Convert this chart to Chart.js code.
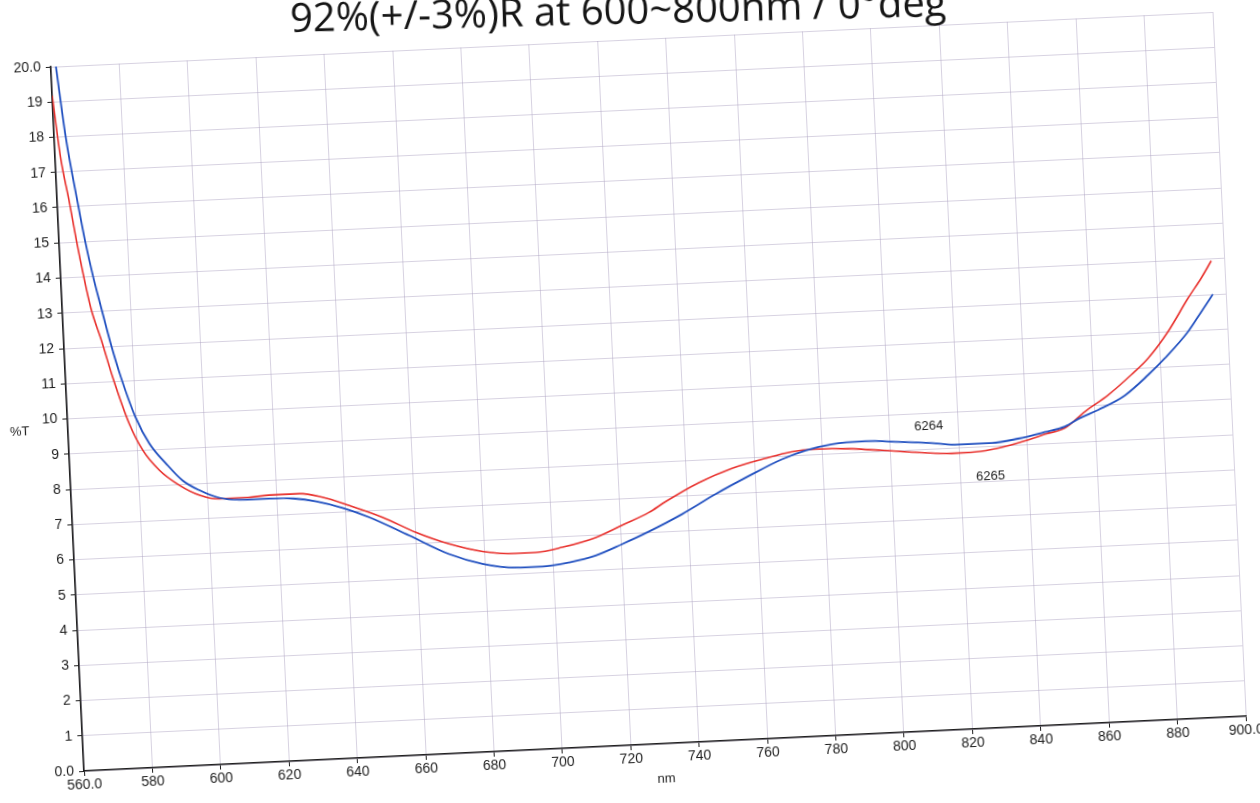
<!DOCTYPE html>
<html>
<head>
<meta charset="utf-8">
<script src="https://cdn.jsdelivr.net/npm/chart.js@4.4.0/dist/chart.umd.min.js"></script>
<style>
  html, body { margin: 0; padding: 0; background: #fff; width: 1260px; height: 803px; overflow: hidden; }
  #sheet {
    position: absolute; left: 14px; top: 10px; width: 1260px; height: 816px;
    transform-origin: 70px 761px; transform: rotate(-2.7deg);
  }
</style>
</head>
<body>
<div id="sheet"><canvas id="spectrum"></canvas></div>
<script>
// Transmittance scans of two samples, wavelength (nm) vs %T
const headingText = '92%(+/-3%)R at 600~800nm / 0°deg';
const yUnit = '%T';
const xUnit = 'nm';

const wl6264 = [561.5, 563.4, 565.9, 567.6, 569.5, 571.3, 573.7, 576.2, 579.9, 583.6,
                588.2, 592.8, 597.6, 603.3, 609.1, 616.9, 625.0, 631.5, 639.1, 646.8,
                658.2, 669.6, 679.2, 688.9, 696.7, 704.5, 712.4, 720.3, 728.3, 738.2,
                748.2, 758.2, 768.1, 775.1, 782.9, 792.7, 802.4, 812.1, 819.9, 829.6,
                837.4, 845.3, 851.2, 855.7, 861.2, 869.1, 876.2, 881.3, 888.5, 892.6, 896.2];
const t6264  = [20.0, 17.98, 16.17, 15.03, 13.98, 13.15, 12.07, 11.11, 9.96, 9.19,
                8.60, 8.10, 7.80, 7.56, 7.48, 7.47, 7.44, 7.33, 7.11, 6.81,
                6.24, 5.66, 5.34, 5.19, 5.18, 5.26, 5.42, 5.71, 6.03, 6.48,
                7.00, 7.47, 7.90, 8.12, 8.26, 8.30, 8.24, 8.16, 8.08, 8.08,
                8.17, 8.32, 8.45, 8.67, 8.88, 9.25, 9.80, 10.25, 10.98, 11.52, 12.0];

const wl6265 = [560.0, 561.6, 563.5, 565.1, 566.6, 568.4, 571.1, 573.8, 578.0, 581.6,
                586.2, 591.8, 597.6, 603.3, 611.1, 617.9, 626.7, 633.4, 641.1, 650.7,
                660.2, 669.7, 679.4, 689.1, 695.0, 702.8, 712.6, 720.6, 728.5, 733.6,
                743.5, 753.4, 763.3, 771.1, 778.0, 787.7, 797.4, 807.1, 817.8, 824.6,
                831.5, 839.4, 845.3, 851.2, 857.3, 864.3, 871.3, 876.4, 882.6, 888.9, 893.0, 896.2];
const t6265  = [19.18, 17.42, 16.18, 15.04, 14.09, 13.1, 12.15, 11.12, 9.78, 9.01,
                8.42, 7.97, 7.66, 7.53, 7.53, 7.57, 7.57, 7.44, 7.17, 6.79,
                6.32, 5.95, 5.69, 5.59, 5.59, 5.70, 5.93, 6.25, 6.57, 6.86,
                7.35, 7.71, 7.95, 8.10, 8.14, 8.11, 8.02, 7.92, 7.84, 7.85,
                7.93, 8.10, 8.26, 8.41, 8.85, 9.29, 9.83, 10.27, 11.0, 11.92, 12.47, 12.95];

const xTickValues = [560, 580, 600, 620, 640, 660, 680, 700, 720, 740, 760, 780, 800, 820, 840, 860, 880, 900];
const xTickLabels = ['560.0', '580', '600', '620', '640', '660', '680', '700', '720', '740', '760', '780', '800', '820', '840', '860', '880', '900.0'];
const yTickValues = [0, 1, 2, 3, 4, 5, 6, 7, 8, 9, 10, 11, 12, 13, 14, 15, 16, 17, 18, 19, 20];
const yTickLabels = ['0.0', '1', '2', '3', '4', '5', '6', '7', '8', '9', '10', '11', '12', '13', '14', '15', '16', '17', '18', '19', '20.0'];

// curve tags: name, wavelength, %T
const tagNames = ['6264', '6265'];
const tagWl = [811.4, 828.8];
const tagT = [8.64, 7.14];

const toPoints = (xs, ys) => xs.map((v, i) => ({ x: v, y: ys[i] }));

const ink = '#1e1e1e';
const gridTint = 'rgba(175,165,195,0.5)';
const tickFont = { family: '"Liberation Sans", Arial, sans-serif', size: 14 };

const overlay = {
  id: 'overlay',
  afterDraw(chart) {
    const { ctx, chartArea: ca, scales: { x, y } } = chart;
    ctx.save();
    // heading across the top, partly beyond the sheet edge
    ctx.save();
    ctx.translate(ca.left + 241, ca.top - 23.5);
    ctx.rotate(1.3 * Math.PI / 180);
    ctx.font = '40px "Open Sans", sans-serif';
    ctx.fillStyle = '#151515';
    ctx.textAlign = 'left';
    ctx.textBaseline = 'alphabetic';
    ctx.fillText(headingText, 0, 0);
    ctx.restore();
    // vertical quantity, written level
    ctx.font = '13px "Liberation Sans", Arial, sans-serif';
    ctx.fillStyle = ink;
    ctx.textAlign = 'left';
    ctx.textBaseline = 'middle';
    ctx.fillText(yUnit, ca.left - 58, y.getPixelForValue(9.7));
    // sample tags beside the curves
    ctx.textAlign = 'center';
    tagNames.forEach((name, i) => {
      ctx.fillText(name, x.getPixelForValue(tagWl[i]), y.getPixelForValue(tagT[i]));
    });
    ctx.restore();
  }
};

new Chart(document.getElementById('spectrum'), {
  type: 'line',
  data: {
    datasets: [
      {
        label: '6264',
        data: toPoints(wl6264, t6264),
        borderColor: '#2150c0',
        borderWidth: 1.8,
        pointRadius: 0,
        cubicInterpolationMode: 'monotone',
        fill: false
      },
      {
        label: '6265',
        data: toPoints(wl6265, t6265),
        borderColor: '#e8302c',
        borderWidth: 1.6,
        pointRadius: 0,
        cubicInterpolationMode: 'monotone',
        fill: false
      }
    ]
  },
  options: {
    responsive: true,
    maintainAspectRatio: false,
    animation: false,
    devicePixelRatio: 1,
    layout: { padding: { top: 56, right: 27, left: 0, bottom: 0 } },
    plugins: {
      legend: { display: false },
      title: { display: false },
      tooltip: { enabled: false }
    },
    scales: {
      x: {
        type: 'linear',
        min: 560,
        max: 900,
        afterBuildTicks: (axis) => { axis.ticks = xTickValues.map(v => ({ value: v })); },
        afterFit: (axis) => { axis.height = 55; },
        ticks: {
          autoSkip: false,
          maxRotation: 0,
          padding: 1,
          color: ink,
          font: tickFont,
          callback: (v) => xTickLabels[xTickValues.indexOf(v)]
        },
        grid: { color: gridTint, lineWidth: 1, tickColor: ink, tickLength: 5 },
        border: { color: ink, width: 1.6 },
        title: {
          display: true,
          text: xUnit,
          color: ink,
          font: { family: '"Liberation Sans", Arial, sans-serif', size: 13 },
          padding: { top: 4, bottom: 12 }
        }
      },
      y: {
        type: 'linear',
        min: 0,
        max: 20,
        afterBuildTicks: (axis) => { axis.ticks = yTickValues.map(v => ({ value: v })); },
        afterFit: (axis) => { axis.width = 70; },
        ticks: {
          autoSkip: false,
          padding: 5,
          color: ink,
          font: tickFont,
          callback: (v) => yTickLabels[yTickValues.indexOf(v)]
        },
        grid: { color: gridTint, lineWidth: 1, tickColor: ink, tickLength: 5 },
        border: { color: ink, width: 1.6 }
      }
    }
  },
  plugins: [overlay]
});
</script>
</body>
</html>
